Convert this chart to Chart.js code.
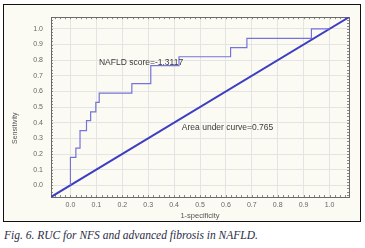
<!DOCTYPE html>
<html lang="en">
<head>
  <meta charset="UTF-8" />
  <title>Fig. 6 - ROC</title>
  <script src="https://cdn.jsdelivr.net/npm/chart.js"></script>
  <style>
    body { margin: 0; background: #fff; width: 365px; height: 248px; position: relative; overflow: hidden; }
    .marco {
      position: absolute; left: 3px; top: 4px; width: 356px; height: 216px;
      border: 1px solid #111; background: #fcfbf3;
    }
    .pie {
      position: absolute; left: 4px; top: 229px;
      font: italic 11.5px "Liberation Serif", serif; color: #2b2b44; white-space: nowrap;
    }
  </style>
</head>
<body>
  <div class="marco">
    <canvas id="grafico" width="356" height="216"></canvas>
  </div>
  <div class="pie">Fig. 6. RUC for NFS and advanced fibrosis in NAFLD.</div>

  <script>
    // datos del ROC (1-especificidad, sensibilidad)
    const fpr = [0, 0, 0.021, 0.037, 0.062, 0.078, 0.098, 0.111, 0.237, 0.31, 0.419, 0.618, 0.681, 0.93, 1.0];
    const tpr = [0, 0.178, 0.237, 0.35, 0.413, 0.47, 0.53, 0.59, 0.65, 0.765, 0.822, 0.88, 0.94, 1.0, 1.0];
    const diagonal = [-0.075, 1.075];
    const marcas = [0, 0.1, 0.2, 0.3, 0.4, 0.5, 0.6, 0.7, 0.8, 0.9, 1.0];
    const ejeMin = -0.075;
    const ejeMax = 1.075;

    const textos = {
      corte: 'NAFLD score=-1.3117',
      area: 'Area under curve=0.765',
      ejeX: '1-specificity',
      ejeY: 'Sensitivity'
    };

    const fuente = '"Liberation Sans", Arial, sans-serif';

    const extras = {
      id: 'extras',
      beforeDatasetsDraw(chart) {
        const { ctx, chartArea: a, scales: { x, y } } = chart;
        ctx.save();
        // marquitas del borde cada 0.02
        ctx.strokeStyle = '#8a8a8a';
        ctx.lineWidth = 1;
        ctx.beginPath();
        for (let v = -0.06; v < 1.07; v += 0.02) {
          const px = Math.round(x.getPixelForValue(v)) + 0.5;
          const py = Math.round(y.getPixelForValue(v)) + 0.5;
          ctx.moveTo(px, a.top); ctx.lineTo(px, a.top + 2);
          ctx.moveTo(px, a.bottom); ctx.lineTo(px, a.bottom - 2);
          ctx.moveTo(a.left, py); ctx.lineTo(a.left + 2, py);
          ctx.moveTo(a.right, py); ctx.lineTo(a.right - 2, py);
        }
        ctx.stroke();
        ctx.strokeStyle = '#6a6a6a';
        ctx.strokeRect(Math.round(a.left) + 0.5, Math.round(a.top) + 0.5,
          Math.round(a.right - a.left), Math.round(a.bottom - a.top));
        ctx.restore();
      },
      afterDraw(chart) {
        const { ctx, scales: { x, y } } = chart;
        ctx.save();
        ctx.fillStyle = '#3a3a3a';
        ctx.font = '8.5px ' + fuente;
        ctx.textBaseline = 'middle';
        ctx.textAlign = 'left';
        ctx.fillText(textos.corte, x.getPixelForValue(0.11), y.getPixelForValue(0.786));
        ctx.fillText(textos.area, x.getPixelForValue(0.43), y.getPixelForValue(0.367));
        // titulo eje y
        ctx.fillStyle = '#555';
        ctx.font = '7px ' + fuente;
        ctx.translate(11, y.getPixelForValue(0.365));
        ctx.rotate(-Math.PI / 2);
        ctx.textAlign = 'center';
        ctx.fillText(textos.ejeY, 0, 0);
        ctx.restore();
      }
    };

    new Chart(document.getElementById('grafico'), {
      type: 'scatter',
      data: {
        datasets: [
          {
            data: fpr.map((v, i) => ({ x: v, y: tpr[i] })),
            showLine: true,
            stepped: 'before',
            borderColor: '#7373d9',
            borderWidth: 1.2,
            pointRadius: 0,
            fill: false
          },
          {
            data: diagonal.map(v => ({ x: v, y: v })),
            showLine: true,
            borderColor: '#3d3dc4',
            borderWidth: 2,
            pointRadius: 0,
            fill: false
          }
        ]
      },
      options: {
        responsive: false,
        animation: false,
        layout: { padding: { left: 0, top: 9, right: 11, bottom: 0 } },
        plugins: {
          legend: { display: false },
          tooltip: { enabled: false }
        },
        scales: {
          x: {
            type: 'linear',
            min: ejeMin,
            max: ejeMax,
            afterBuildTicks: s => { s.ticks = marcas.map(v => ({ value: v })); },
            afterFit: s => { s.height = 24; },
            grid: { color: '#e4e4e4', drawTicks: false },
            border: { display: false },
            ticks: {
              padding: 4,
              color: '#666',
              font: { family: fuente, size: 7 },
              callback: v => v.toFixed(1)
            },
            title: {
              display: true,
              text: textos.ejeX,
              color: '#555',
              font: { family: fuente, size: 7.5 },
              padding: { top: 0, bottom: 1 }
            }
          },
          y: {
            type: 'linear',
            min: ejeMin,
            max: ejeMax,
            afterBuildTicks: s => { s.ticks = marcas.map(v => ({ value: v })); },
            afterFit: s => { s.width = 47; },
            grid: { color: '#e4e4e4', drawTicks: false },
            border: { display: false },
            ticks: {
              padding: 8,
              color: '#666',
              font: { family: fuente, size: 7 },
              callback: v => v.toFixed(1)
            }
          }
        }
      },
      plugins: [extras]
    });
  </script>
</body>
</html>
